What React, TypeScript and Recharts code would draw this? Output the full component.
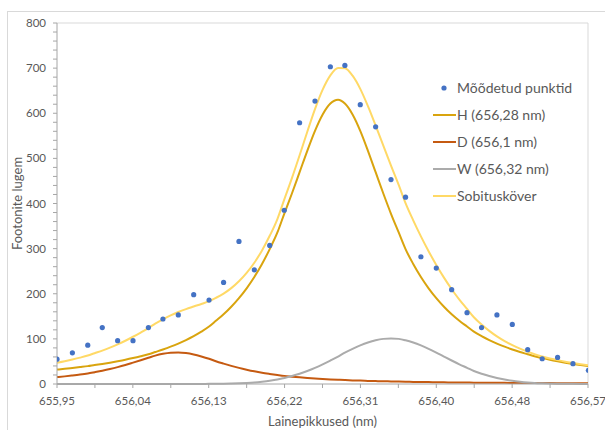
import { ComposedChart, Line, Scatter, XAxis, YAxis, ReferenceLine } from 'recharts';

// measured photon counts
const measuredWavelengths = [
  655.952, 655.970, 655.988, 656.005, 656.023, 656.041, 656.059, 656.076, 656.094,
  656.112, 656.130, 656.147, 656.165, 656.183, 656.201, 656.218, 656.236, 656.254,
  656.272, 656.289, 656.307, 656.325, 656.343, 656.360, 656.378, 656.396, 656.414,
  656.432, 656.449, 656.467, 656.485, 656.503, 656.520, 656.538, 656.556, 656.574,
];
const measuredCounts = [
  55, 69, 86, 125, 96, 96, 125, 144, 153,
  198, 186, 225, 316, 253, 307, 385, 579, 627,
  703, 706, 619, 570, 453, 414, 282, 257, 209,
  158, 125, 153, 132, 76, 56, 59, 45, 30,
];

const curveWavelengths = [
  655.952, 655.961, 655.970, 655.979, 655.988, 655.996, 656.005, 656.014, 656.023, 656.032,
  656.041, 656.050, 656.059, 656.067, 656.076, 656.085, 656.094, 656.103, 656.112, 656.121,
  656.130, 656.138, 656.147, 656.156, 656.165, 656.174, 656.183, 656.192, 656.201, 656.210,
  656.218, 656.227, 656.236, 656.245, 656.254, 656.263, 656.272, 656.281, 656.289, 656.298,
  656.307, 656.316, 656.325, 656.334, 656.343, 656.352, 656.360, 656.369, 656.378, 656.387,
  656.396, 656.405, 656.414, 656.423, 656.432, 656.440, 656.449, 656.458, 656.467, 656.476,
  656.485, 656.494, 656.503, 656.511, 656.520, 656.529, 656.538, 656.547, 656.556, 656.565,
  656.574,
];
const hCurve = [
  31.9, 33.6, 35.5, 37.5, 39.6, 42.0, 44.5, 47.3, 50.4, 53.7,
  57.4, 61.5, 66.0, 70.9, 76.5, 82.7, 89.6, 97.4, 106.1, 116.0,
  127.3, 140.0, 154.4, 171.2, 190.3, 212.1, 237.2, 266.0, 298.9, 335.8,
  377.2, 422.2, 469.4, 516.8, 561.0, 597.3, 621.5, 630.0, 621.5, 597.3,
  561.0, 516.8, 469.4, 422.2, 377.2, 335.8, 298.9, 266.0, 237.2, 212.1,
  190.3, 171.2, 154.4, 140.0, 127.3, 116.0, 106.1, 97.4, 89.6, 82.7,
  76.5, 70.9, 66.0, 61.5, 57.4, 53.7, 50.4, 47.3, 44.5, 42.0,
  39.6,
];
const dCurve = [
  15.3, 16.9, 18.8, 20.9, 23.4, 26.2, 29.5, 33.2, 37.4, 42.1,
  47.3, 52.6, 58.0, 62.9, 66.9, 69.4, 70.0, 68.6, 65.5, 61.1,
  55.9, 50.5, 45.2, 40.2, 35.7, 31.7, 28.1, 25.0, 22.4, 20.0,
  18.0, 16.3, 14.7, 13.4, 12.2, 11.2, 10.2, 9.4, 8.7, 8.0,
  7.5, 6.9, 6.5, 6.0, 5.7, 5.3, 5.0, 4.7, 4.4, 4.2,
  3.9, 3.7, 3.5, 3.4, 3.2, 3.0, 2.9, 2.8, 2.6, 2.5,
  2.4, 2.3, 2.2, 2.1, 2.0, 2.0, 1.9, 1.8, 1.8, 1.7,
  1.6,
];
const wCurve = [
  0, 0, 0, 0, 0, 0, 0, 0, 0, 0,
  0, 0, 0, 0, 0, 0, 0, 0, 0.1, 0.2,
  0.3, 0.4, 0.7, 1.0, 1.6, 2.4, 3.5, 5.1, 7.1, 9.8,
  13.3, 17.6, 22.7, 28.9, 35.9, 43.7, 52.1, 60.8, 69.6, 78.0,
  85.6, 92.0, 96.9, 100.0, 101.0, 100.0, 96.9, 92.0, 85.6, 78.0,
  69.6, 60.8, 52.1, 43.7, 35.9, 28.9, 22.7, 17.6, 13.3, 9.8,
  7.1, 5.1, 3.5, 2.4, 1.6, 1.0, 0.7, 0.4, 0.3, 0.2,
  0.1,
];
const fitCurve = [
  47.2, 50.5, 54.3, 58.4, 63.0, 68.2, 74.0, 80.5, 87.8, 95.8,
  104.7, 114.1, 124.0, 133.8, 143.4, 152.1, 159.6, 166.0, 171.7, 177.3,
  183.5, 190.9, 200.3, 212.4, 227.6, 246.2, 268.8, 296.1, 328.4, 365.6,
  408.5, 456.1, 506.8, 559.1, 609.1, 652.2, 683.8, 700.2, 699.8, 683.3,
  654.1, 615.7, 572.8, 528.2, 483.9, 441.1, 400.8, 362.7, 327.2, 294.3,
  263.8, 235.7, 210.0, 187.1, 166.4, 147.9, 131.7, 117.8, 105.5, 95.0,
  86.0, 78.3, 71.7, 66.0, 61.0, 56.7, 53.0, 49.5, 46.6, 43.9,
  41.3,
];

const xTickLabels = ['655,95', '656,04', '656,13', '656,22', '656,31', '656,40', '656,48', '656,57'];
const yTickLabels = ['0', '100', '200', '300', '400', '500', '600', '700', '800'];

const X_MIN = 655.952;
const X_MAX = 656.5736;
const X_HALF = (X_MAX - X_MIN) / 14;
const xTicks = Array.from({ length: 15 }, (_, i) => X_MIN + i * X_HALF);
const yTicks = Array.from({ length: 41 }, (_, i) => i * 20);

const measured = measuredWavelengths.map((x, i) => ({ x, y: measuredCounts[i] }));
const toPoints = (vals: number[]) => curveWavelengths.map((x, i) => ({ x, y: vals[i] }));

const FONT = 'Lato, "Open Sans", sans-serif';
const TEXT = '#595959';

const series = [
  { name: 'Mõõdetud punktid', color: '#4472C4', dot: true },
  { name: 'H (656,28 nm)', color: '#D9A40E', dot: false },
  { name: 'D (656,1 nm)', color: '#C55A11', dot: false },
  { name: 'W (656,32 nm)', color: '#ABABAB', dot: false },
  { name: 'Sobitusköver', color: '#FFD966', dot: false },
];

const LegendBox = () => (
  <div style={{ position: 'absolute', left: 433, top: 74, fontFamily: FONT, fontSize: 14, color: TEXT }}>
    {series.map((s) => (
      <div key={s.name} style={{ display: 'flex', alignItems: 'center', height: 27 }}>
        <svg width={23} height={10} style={{ marginRight: 1 }}>
          {s.dot ? (
            <circle cx={11} cy={5} r={2.6} fill={s.color} />
          ) : (
            <line x1={0} y1={5} x2={23} y2={5} stroke={s.color} strokeWidth={2} />
          )}
        </svg>
        <span>{s.name}</span>
      </div>
    ))}
  </div>
);

const Dot = (props: any) => <circle cx={props.cx} cy={props.cy} r={2.6} fill="#4472C4" />;

export default function App() {
  return (
    <div style={{ position: 'absolute', left: 0, top: 0, width: 605, height: 430, overflow: 'hidden', background: '#fff' }}>
      <div style={{ position: 'absolute', left: 7, top: 11, width: 640, height: 460, border: '1px solid #D9D9D9' }} />
      <ComposedChart width={605} height={430} margin={{ top: 23, right: 17, bottom: 16, left: 7 }} style={{ position: 'absolute', left: 0, top: 0 }}>
        <XAxis
          type="number"
          dataKey="x"
          domain={[X_MIN, X_MAX]}
          ticks={xTicks}
          interval={0}
          allowDataOverflow
          tickFormatter={(_v: number, i: number) => (i % 2 === 0 ? xTickLabels[i / 2] : '')}
          tick={{ fill: TEXT, fontSize: 11.5, fontFamily: FONT }}
          tickSize={4}
          tickMargin={9}
          stroke="#A6A6A6"
          height={30}
          label={{ value: 'Lainepikkused (nm)', position: 'bottom', offset: 3, fill: TEXT, fontSize: 13, fontFamily: FONT }}
        />
        <YAxis
          type="number"
          domain={[0, 800]}
          ticks={yTicks}
          interval={0}
          tickFormatter={(v: number) => (v % 100 === 0 ? yTickLabels[v / 100] : '')}
          tick={{ fill: TEXT, fontSize: 11.5, fontFamily: FONT }}
          tickSize={4}
          tickMargin={7}
          stroke="#A6A6A6"
          width={50}
          label={{ value: 'Footonite lugem', angle: -90, position: 'insideLeft', offset: 10, fill: TEXT, fontSize: 13, fontFamily: FONT, style: { textAnchor: 'middle' } }}
        />
        <ReferenceLine y={800} stroke="#D9D9D9" />
        <ReferenceLine x={X_MAX} stroke="#D9D9D9" />
        <Line data={toPoints(hCurve)} dataKey="y" type="monotone" stroke="#D9A40E" strokeWidth={2} dot={false} isAnimationActive={false} />
        <Line data={toPoints(dCurve)} dataKey="y" type="monotone" stroke="#C55A11" strokeWidth={2} dot={false} isAnimationActive={false} />
        <Line data={toPoints(wCurve)} dataKey="y" type="monotone" stroke="#ABABAB" strokeWidth={2} dot={false} isAnimationActive={false} />
        <Line data={toPoints(fitCurve)} dataKey="y" type="monotone" stroke="#FFD966" strokeWidth={2} dot={false} isAnimationActive={false} />
        <Scatter data={measured} dataKey="y" shape={Dot} isAnimationActive={false} />
      </ComposedChart>
      <LegendBox />
    </div>
  );
}
